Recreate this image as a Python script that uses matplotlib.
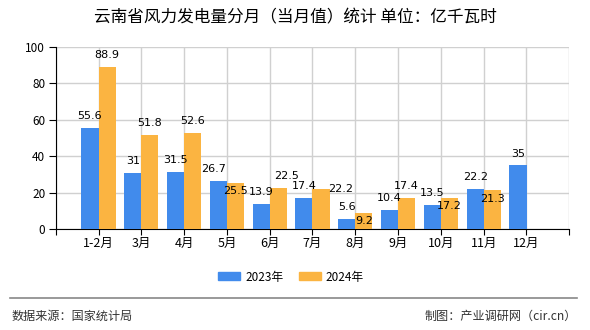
import numpy as np
import matplotlib
matplotlib.use('Agg')
import matplotlib.pyplot as plt
from matplotlib.patches import Patch
from matplotlib.lines import Line2D

plt.rcParams['font.family'] = ['Noto Sans CJK SC', 'DejaVu Sans']

# data
months = ['1-2月', '3月', '4月', '5月', '6月', '7月', '8月', '9月', '10月', '11月', '12月']
v2023 = [55.6, 31, 31.5, 26.7, 13.9, 17.4, 5.6, 10.4, 13.5, 22.2, 35]
v2024 = [88.9, 51.8, 52.6, 25.5, 22.5, 22.2, 9.2, 17.4, 17.2, 21.3, None]

# label offsets in points (dx, dy of label centre from bar top)
up = (0, 8.6)
down = (0, -6.1)
off2023 = [up, up, up, (-3.4, 8.6), up, up, up, up, up, up, up]
off2024 = [up, up, up, down, (5.8, 8.6), (14.4, 0), down, up, down, down, up]

blue = '#418bec'
orange = '#fbb441'

fig = plt.figure(figsize=(5.9, 3.3), dpi=100)
ax = fig.add_axes([55.7 / 590, 1 - 229.3 / 330, (569.3 - 55.7) / 590, (229.3 - 47) / 330])

x = np.arange(len(months))
w = 0.4
ax.bar(x - w / 2, v2023, width=w, color=blue, zorder=3)
v24 = [np.nan if v is None else v for v in v2024]
ax.bar(x + w / 2, v24, width=w, color=orange, zorder=3)

for i, v in enumerate(v2023):
    ax.annotate(f'{v:g}', (x[i] - w / 2, v), xytext=off2023[i], textcoords='offset points',
                ha='center', va='center', fontsize=8, family='DejaVu Sans', zorder=4)
for i, v in enumerate(v2024):
    if v is None:
        continue
    ax.annotate(f'{v:g}', (x[i] + w / 2, v), xytext=off2024[i], textcoords='offset points',
                ha='center', va='center', fontsize=8, family='DejaVu Sans', zorder=4)

ax.set_xlim(-1, 11)
ax.set_ylim(0, 100)
ax.set_xticks(np.arange(-1, 12))
ax.set_xticklabels([''] + months + [''], fontsize=9)
ax.set_yticks([0, 20, 40, 60, 80, 100])
ax.tick_params(axis='y', labelsize=8.5, length=5, pad=2.5, color='black')
ax.tick_params(axis='x', length=4, pad=1.5, color='black')
ax.grid(True, color='#d0d0d0', linewidth=1, zorder=0)
ax.set_axisbelow(True)
for s in ['top', 'right']:
    ax.spines[s].set_visible(False)
ax.spines['left'].set_color('black')
ax.spines['bottom'].set_color('black')

fig.text(0.5, 1 - 18 / 330, '云南省风力发电量分月（当月值）统计 单位：亿千瓦时',
         ha='center', va='center', fontsize=12)

handles = [Patch(color=blue, label='2023年'), Patch(color=orange, label='2024年')]
fig.legend(handles=handles, loc='center', bbox_to_anchor=(291 / 590, 1 - 277 / 330), ncol=2,
           frameon=False, fontsize=8.5, handlelength=1.86, handleheight=0.68,
           handletextpad=0.42, columnspacing=1.3, borderpad=0)

fig.add_artist(Line2D([10 / 590, 577 / 590], [1 - 298.3 / 330] * 2, color='#888888', linewidth=1.2))
fig.text(12 / 590, 1 - 316.7 / 330, '数据来源：国家统计局', ha='left', va='center', fontsize=8.7, color='#333333')
fig.text(577 / 590, 1 - 316.7 / 330, '制图：产业调研网（cir.cn）', ha='right', va='center', fontsize=8.7, color='#333333')

fig.savefig('out.png', dpi=100)
